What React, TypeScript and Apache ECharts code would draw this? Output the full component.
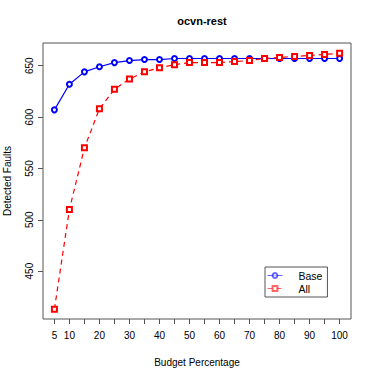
import React, { useEffect, useRef } from "react";
import * as echarts from "echarts";

const budget = [5, 10, 15, 20, 25, 30, 35, 40, 45, 50, 55, 60, 65, 70, 75, 80, 85, 90, 95, 100];
const baseFaults = [607, 632, 644, 649, 653, 655, 656, 656, 657, 657, 657, 657, 657, 657, 657, 657, 657, 657, 657, 657];
const allFaults = [413, 510, 570, 608, 627, 637, 644, 648, 651, 653, 653, 653, 654, 655, 657, 658, 659, 660, 661, 662];
const xTicks = [5, 10, 15, 20, 25, 30, 35, 40, 45, 50, 55, 60, 65, 70, 75, 80, 85, 90, 95, 100];
const xLabels = [5, 10, 20, 30, 40, 50, 60, 70, 80, 90, 100];
const yTicks = [450, 500, 550, 600, 650];

const FONT = "Liberation Sans, Arial, sans-serif";

export default function App() {
  const ref = useRef<HTMLDivElement>(null);
  useEffect(() => {
    const chart = echarts.init(ref.current!, null, { renderer: "svg" });
    chart.setOption({
      animation: false,
      backgroundColor: "#ffffff",
      title: {
        text: "ocvn-rest",
        left: 197,
        top: 10,
        textAlign: "center",
        textStyle: { fontFamily: FONT, fontSize: 11, fontWeight: "bold", color: "#000" },
      },
      grid: {
        left: 43,
        top: 43,
        right: 23,
        bottom: 55,
        show: true,
        containLabel: false,
        outerBoundsMode: "none",
        borderColor: "#555",
        borderWidth: 1,
        backgroundColor: "transparent",
      },
      legend: {
        left: 265,
        top: 267,
        orient: "vertical",
        padding: [3, 5, 3, 2],
        itemGap: 2,
        itemWidth: 15,
        itemHeight: 6,
        borderColor: "#555",
        borderWidth: 1,
        lineStyle: { width: 1, opacity: 0.6 },
        itemStyle: { borderWidth: 1, opacity: 0.6 },
        textStyle: { fontFamily: FONT, fontSize: 10.5, color: "#000", padding: [0, 6, 0, 11] },
        data: ["Base", "All"],
      },
      xAxis: {
        type: "value",
        min: 1.2,
        max: 103.8,
        name: "Budget Percentage",
        nameLocation: "middle",
        nameGap: 38,
        nameTextStyle: { fontFamily: FONT, fontSize: 10, color: "#000" },
        axisLine: { show: false },
        splitLine: { show: false },
        axisTick: { show: true, customValues: xTicks, length: 5, lineStyle: { color: "#555" } },
        axisLabel: {
          customValues: xLabels,
          fontFamily: FONT,
          fontSize: 10,
          color: "#000",
          margin: 11,
        },
      },
      yAxis: {
        type: "value",
        min: 403.4,
        max: 672.1,
        name: "Detected Faults",
        nameLocation: "middle",
        nameGap: 31,
        nameTextStyle: { fontFamily: FONT, fontSize: 10, color: "#000" },
        axisLine: { show: false },
        splitLine: { show: false },
        axisTick: { show: true, customValues: yTicks, length: 5, lineStyle: { color: "#555" } },
        axisLabel: {
          customValues: yTicks,
          rotate: 90,
          fontFamily: FONT,
          fontSize: 10,
          color: "#000",
          margin: 9,
        },
      },
      series: [
        {
          name: "Base",
          type: "line",
          data: budget.map((b, i) => [b, baseFaults[i]]),
          symbol: "emptyCircle",
          symbolSize: 5,
          lineStyle: { color: "#0000ff", width: 1.2 },
          itemStyle: { color: "#0000ff", borderColor: "#0000ff", borderWidth: 1.1 },
        },
        {
          name: "All",
          type: "line",
          data: budget.map((b, i) => [b, allFaults[i]]),
          symbol: "emptyRect",
          symbolSize: 5,
          lineStyle: { color: "#ff0000", width: 1.2, type: [5, 4] },
          itemStyle: { color: "#ff0000", borderColor: "#ff0000", borderWidth: 1.1 },
        },
      ],
    });
    return () => chart.dispose();
  }, []);
  return (
    <div
      ref={ref}
      style={{ position: "fixed", left: 0, top: 0, width: 374, height: 374 }}
    />
  );
}
